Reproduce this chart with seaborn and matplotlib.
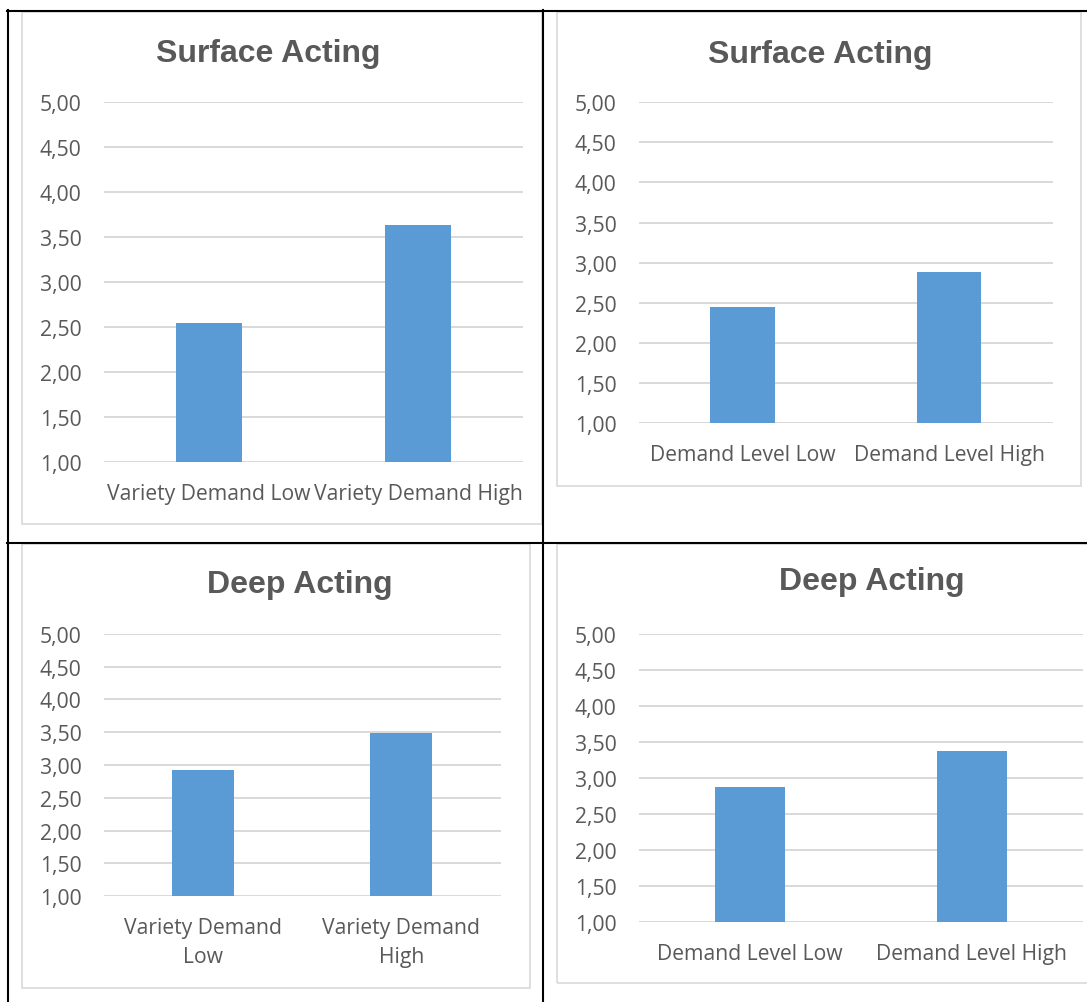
import numpy as np
import matplotlib
matplotlib.use("Agg")
import matplotlib.pyplot as plt
from matplotlib.lines import Line2D
from matplotlib.patches import Rectangle
from matplotlib.ticker import FuncFormatter
import seaborn as sns

# Category labels
variety_categories = ["Variety Demand Low", "Variety Demand High"]
level_categories = ["Demand Level Low", "Demand Level High"]

# Mean scores per condition
surface_variety = [2.55, 3.63]
surface_level = [2.45, 2.89]
deep_variety = [2.93, 3.49]
deep_level = [2.87, 3.37]

# Axis ticks
y_ticks = [1.0, 1.5, 2.0, 2.5, 3.0, 3.5, 4.0, 4.5, 5.0]

W, H = 1087, 1003
BAR = "#5B9BD5"
TEXT = "#595959"
GRID = "#D9D9D9"
TICK_FONT = "Open Sans"
TITLE_FONT = "Liberation Sans"
TICK_SIZE = 15.2

fig = plt.figure(figsize=(W / 100, H / 100), dpi=100)
fig.patch.set_facecolor("white")


def fx(x):
    return x / W


def fy(y):
    return 1 - y / H


def add_axes_px(x0, y0, x1, y1):
    return fig.add_axes([fx(x0), fy(y1), (x1 - x0) / W, (y1 - y0) / H])


def chart_frame(x0, y0, x1, y1):
    fig.add_artist(Rectangle((fx(x0), fy(y1)), (x1 - x0) / W, (y1 - y0) / H,
                             transform=fig.transFigure, fill=False,
                             edgecolor=GRID, lw=1.2, zorder=0))


def draw_bars(ax, cats, vals, labels, title, title_xy):
    sns.barplot(x=cats, y=vals, ax=ax, color=BAR, saturation=1,
                width=0.313, edgecolor="none", zorder=2)
    ax.set_ylim(1, 5)
    ax.set_yticks(y_ticks)
    ax.yaxis.set_major_formatter(FuncFormatter(lambda v, _: f"{v:.2f}".replace(".", ",")))
    ax.set_xticks(range(len(cats)))
    ax.set_xticklabels(labels, fontfamily=TICK_FONT, fontsize=TICK_SIZE, color=TEXT,
                       linespacing=1.5)
    for lab in ax.get_yticklabels():
        lab.set_fontfamily(TICK_FONT)
        lab.set_fontsize(TICK_SIZE)
        lab.set_color(TEXT)
    ax.tick_params(axis="both", length=0)
    ax.tick_params(axis="y", pad=16)
    ax.tick_params(axis="x", pad=15)
    ax.yaxis.grid(True, color=GRID, lw=1.4)
    ax.xaxis.grid(False)
    ax.set_axisbelow(True)
    for s in ax.spines.values():
        s.set_visible(False)
    ax.set_xlabel("")
    ax.set_ylabel("")
    ax.set_facecolor("none")
    fig.text(fx(title_xy[0]), fy(title_xy[1]), title, ha="center", va="baseline",
             fontfamily=TITLE_FONT, fontweight="bold", fontsize=23, color=TEXT)


def wrap_last(label):
    head, tail = label.rsplit(" ", 1)
    return head + "\n" + tail


# Chart frames
chart_frame(22, 13, 542, 525)
chart_frame(556.5, 13, 1081, 487)
chart_frame(22, 545, 530, 989)
chart_frame(556.5, 545, 1100, 984)

ax1 = add_axes_px(104, 103, 523, 463)
draw_bars(ax1, variety_categories, surface_variety, variety_categories,
          "Surface Acting", (268, 62))

ax2 = add_axes_px(639, 103, 1052.5, 424.4)
draw_bars(ax2, level_categories, surface_level, level_categories,
          "Surface Acting", (820, 63.5))

ax3 = add_axes_px(104, 634.7, 500.5, 897.3)
draw_bars(ax3, variety_categories, deep_variety,
          [wrap_last(c) for c in variety_categories],
          "Deep Acting", (300, 593))

ax4 = add_axes_px(639, 634.7, 1083, 922.7)
draw_bars(ax4, level_categories, deep_level, level_categories,
          "Deep Acting", (872, 590))

# Table cell borders
black_lw = 1.5
for (xa, ya, xb, yb) in [(7, 12, 1087, 12), (7, 543.5, 1087, 543.5),
                         (7.8, 11, 7.8, 1003), (542.7, 11, 542.7, 1003)]:
    fig.add_artist(Line2D([fx(xa), fx(xb)], [fy(ya), fy(yb)],
                          transform=fig.transFigure, color="black",
                          lw=black_lw, zorder=10, solid_capstyle="projecting"))

fig.savefig("out.png", dpi=100, facecolor="white")
